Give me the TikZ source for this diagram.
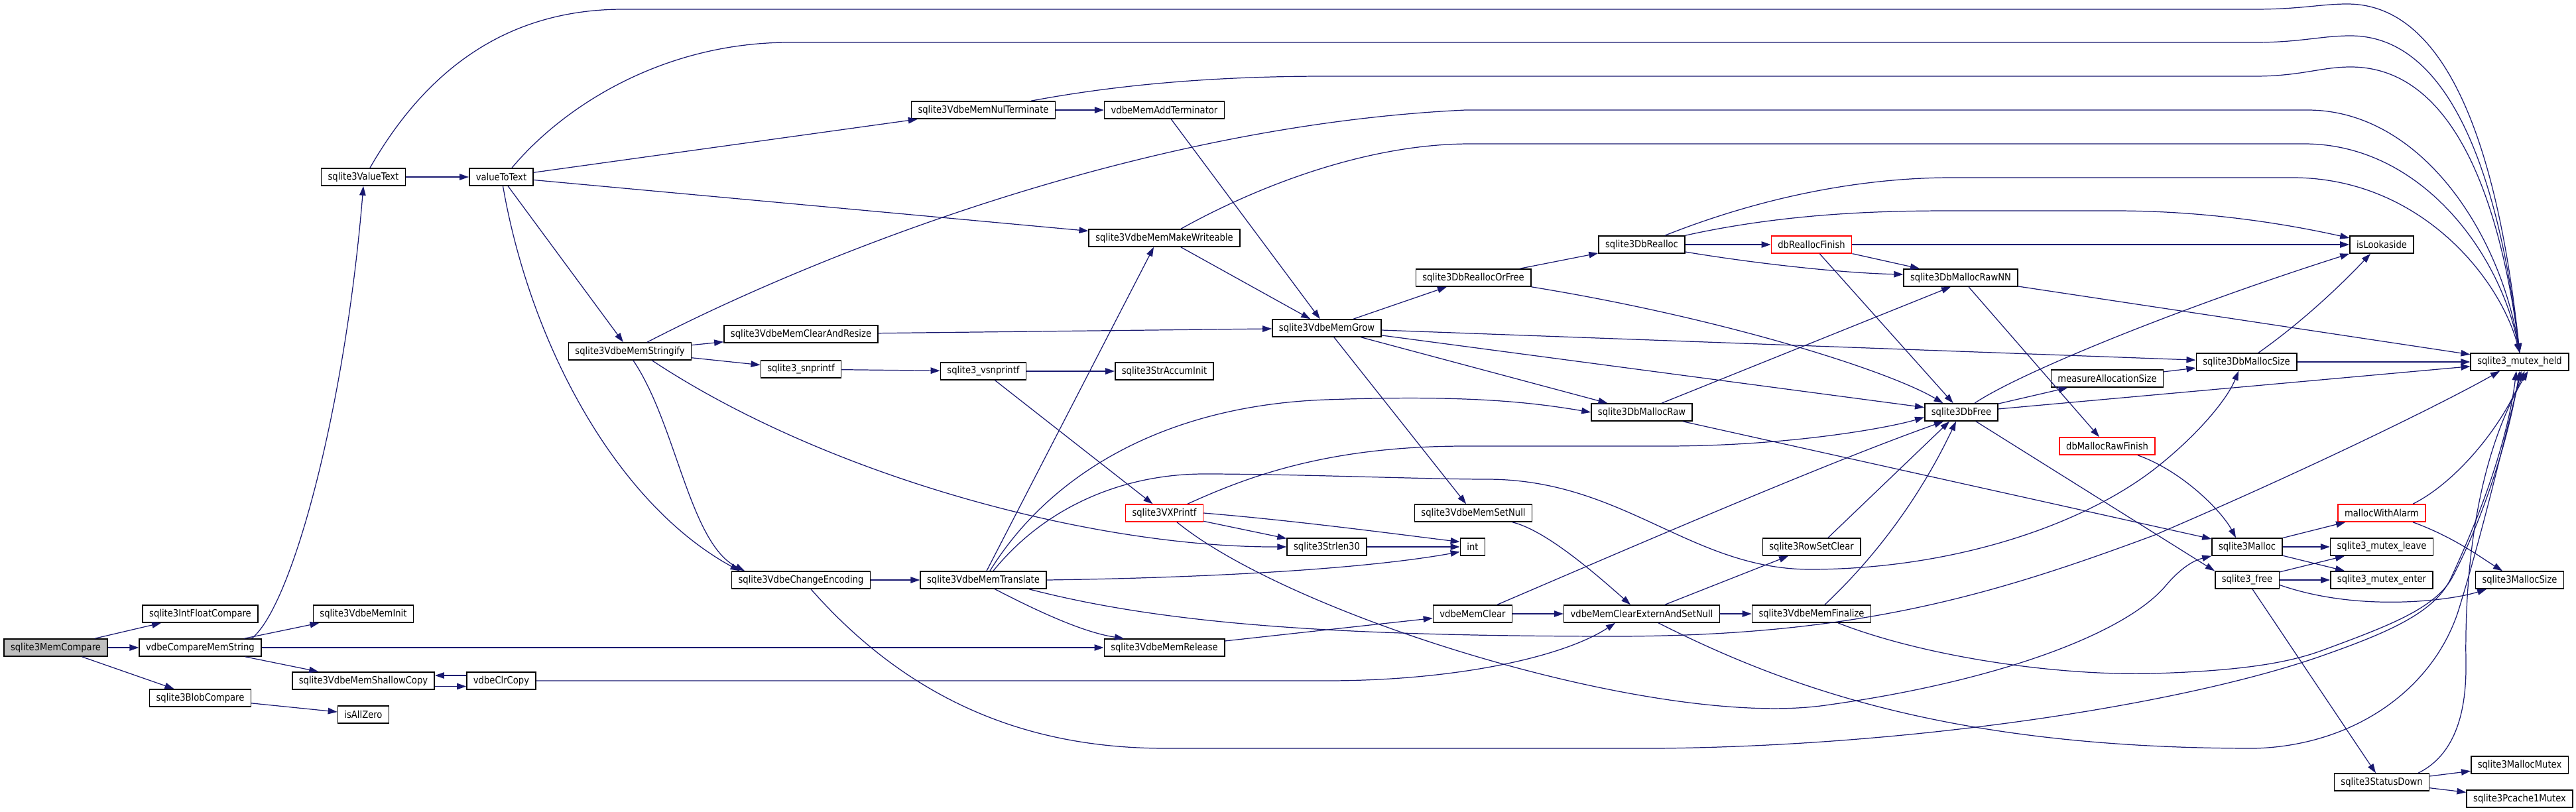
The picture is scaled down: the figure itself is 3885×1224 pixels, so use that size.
\documentclass[tikz,border=0pt]{standalone}
\usepackage{fontspec}
\newfontfamily\dvcond{DejaVu Sans}[FakeStretch=0.88]
\usepackage{tikz}
\usetikzlibrary{arrows.meta}
\definecolor{edgeBlue}{HTML}{191970}
\definecolor{rootGray}{HTML}{BFBFBF}
\definecolor{warnRed}{HTML}{FF0000}

\begin{document}
\begin{tikzpicture}[x=0.02cm, y=-0.02cm,
  fn/.style={draw=black, line width=0.9pt, fill=white, inner xsep=0.2cm, inner ysep=0pt,
    minimum height=0.52cm, font=\dvcond\fontsize{8.5}{10}\selectfont},
  fnred/.style={fn, draw=warnRed},
  fnroot/.style={fn, fill=rootGray},
  call/.style={draw=edgeBlue, line width=0.7pt, -{Triangle[length=0.28cm, width=0.19cm]}}]
\useasboundingbox (0,0) rectangle (3885,1224);
% --- functions, column by column ---
\node[fnroot] (memcmp) at (84,977) {sqlite3MemCompare};
\node[fn] (intfloat) at (302,926) {sqlite3IntFloatCompare};
\node[fn] (cmpstr) at (302,977) {vdbeCompareMemString};
\node[fn] (blobcmp) at (302,1053) {sqlite3BlobCompare};
\node[fn] (vtext) at (548,267) {sqlite3ValueText};
\node[fn] (meminit) at (548,926) {sqlite3VdbeMemInit};
\node[fn] (shallow) at (548,1027) {sqlite3VdbeMemShallowCopy};
\node[fn] (allzero) at (548,1078) {isAllZero};
\node[fn] (valtotext) at (756,267) {valueToText};
\node[fn] (clrcopy) at (756,1027) {vdbeClrCopy};
\node[fn] (strfy) at (950,530) {sqlite3VdbeMemStringify};
\node[fn] (clresize) at (1208,504) {sqlite3VdbeMemClearAndResize};
\node[fn] (snpf) at (1208,557) {sqlite3\_snprintf};
\node[fn] (chenc) at (1208,875) {sqlite3VdbeChangeEncoding};
\node[fn] (nulterm) at (1483,166) {sqlite3VdbeMemNulTerminate};
\node[fn] (vsnpf) at (1483,560) {sqlite3\_vsnprintf};
\node[fn] (transl) at (1483,875) {sqlite3VdbeMemTranslate};
\node[fn] (addterm) at (1756,166) {vdbeMemAddTerminator};
\node[fn] (mkwr) at (1756,359) {sqlite3VdbeMemMakeWriteable};
\node[fn] (accinit) at (1756,560) {sqlite3StrAccumInit};
\node[fnred] (vxpf) at (1756,774) {sqlite3VXPrintf};
\node[fn] (release) at (1756,977) {sqlite3VdbeMemRelease};
\node[fn] (grow) at (2001,495) {sqlite3VdbeMemGrow};
\node[fn] (strlen) at (2001,825) {sqlite3Strlen30};
\node[fn] (reorf) at (2222,419) {sqlite3DbReallocOrFree};
\node[fn] (setnull) at (2222,774) {sqlite3VdbeMemSetNull};
\node[fn] (int) at (2221,825) {int};
\node[fn] (memclr) at (2221,926) {vdbeMemClear};
\node[fn] (realloc) at (2476,369) {sqlite3DbRealloc};
\node[fn] (mraw) at (2476,622) {sqlite3DbMallocRaw};
\node[fn] (clrext) at (2476,926) {vdbeMemClearExternAndSetNull};
\node[fnred] (rfin) at (2732,369) {dbReallocFinish};
\node[fn] (rowset) at (2732,825) {sqlite3RowSetClear};
\node[fn] (final) at (2732,926) {sqlite3VdbeMemFinalize};
\node[fn] (rawnn) at (2957,419) {sqlite3DbMallocRawNN};
\node[fn] (dbfree) at (2958,622) {sqlite3DbFree};
\node[fn] (measure) at (3178,571) {measureAllocationSize};
\node[fnred] (rawfin) at (3178,673) {dbMallocRawFinish};
\node[fn] (msize) at (3388,546) {sqlite3DbMallocSize};
\node[fn] (smalloc) at (3389,825) {sqlite3Malloc};
\node[fn] (sfree) at (3389,875) {sqlite3\_free};
\node[fn] (lookaside) at (3592,369) {isLookaside};
\node[fnred] (alarm) at (3592,774) {mallocWithAlarm};
\node[fn] (mleave) at (3592,825) {sqlite3\_mutex\_leave};
\node[fn] (menter) at (3592,875) {sqlite3\_mutex\_enter};
\node[fn] (stdown) at (3592,1180) {sqlite3StatusDown};
\node[fn] (mheld) at (3800,546) {sqlite3\_mutex\_held};
\node[fn] (mallocsize) at (3800,875) {sqlite3MallocSize};
\node[fn] (mmutex) at (3800,1154) {sqlite3MallocMutex};
\node[fn] (pmutex) at (3800,1205) {sqlite3Pcache1Mutex};
% --- calls ---
\draw[call] (memcmp) -- (intfloat);
\draw[call] (memcmp) -- (cmpstr);
\draw[call] (memcmp) -- (blobcmp);
\draw[call] (blobcmp) -- (allzero);
\draw[call] ([xshift=-0.3cm]cmpstr.north east) .. controls (440,915) and (520,620) .. (vtext.south);
\draw[call] (cmpstr) -- (meminit);
\draw[call] (cmpstr) -- (shallow);
\draw[call] (cmpstr) -- (release);
\draw[call] ([yshift=-0.17cm]shallow.east) -- ([yshift=-0.17cm]clrcopy.west);
\draw[call] ([yshift=0.16cm]clrcopy.west) -- ([yshift=0.16cm]shallow.east);
\draw[call] (clrcopy.east) -- (2000,1027) .. controls (2200,1027) and (2360,990) .. ([xshift=-0.8cm]clrext.south);
\draw[call] (vtext) -- (valtotext);
\draw[call] ([xshift=0.2cm]vtext.north) .. controls (640,110) and (760,14) .. (940,14) -- (3400,14)
  .. controls (3470,14) and (3500,6) .. (3540,6) .. controls (3700,6) and (3770,250) .. (mheld.north);
\draw[call] ([xshift=0.32cm]valtotext.north) .. controls (850,160) and (1000,64) .. (1191,64) -- (3400,64)
  .. controls (3470,64) and (3500,54) .. (3545,54) .. controls (3700,54) and (3770,280) .. (mheld.north);
\draw[call] (valtotext) -- (nulterm);
\draw[call] (valtotext) -- (mkwr);
\draw[call] (valtotext) -- (strfy);
\draw[call] ([xshift=0.05cm]valtotext.south) .. controls (800,520) and (930,760) .. ([xshift=-1.85cm]chenc.north);
\draw[call] (nulterm) -- (addterm);
\draw[call] ([xshift=1.44cm]nulterm.north) .. controls (1700,125) and (1850,115) .. (2000,115) -- (3400,115)
  .. controls (3470,115) and (3500,101) .. (3545,101) .. controls (3700,101) and (3770,300) .. (mheld.north);
\draw[call] (addterm) -- (grow);
\draw[call] ([xshift=0.52cm]strfy.north) .. controls (1200,400) and (1700,190) .. (2210,166) -- (3480,166)
  .. controls (3650,166) and (3770,350) .. (mheld.north);
\draw[call] (strfy) -- (clresize);
\draw[call] (strfy) -- (snpf);
\draw[call] ([xshift=0.1cm]strfy.south) .. controls (1020,640) and (1040,820) .. ([xshift=-1.7cm]chenc.north);
\draw[call] ([xshift=-1.2cm]strfy.south east) .. controls (1250,720) and (1650,826) .. (strlen.west);
\draw[call] (clresize) -- (grow);
\draw[call] (snpf) -- (vsnpf);
\draw[call] (vsnpf) -- (accinit);
\draw[call] (vsnpf) -- (vxpf);
\draw[call] (chenc) -- (transl);
\draw[call] ([xshift=0.3cm]chenc.south) .. controls (1400,1090) and (1600,1129) .. (1760,1129) -- (2500,1129)
  .. controls (2900,1125) and (3300,1060) .. (3500,990) .. controls (3600,955) and (3670,925) .. (3695,875)
  .. controls (3730,800) and (3780,680) .. ([xshift=-0.1cm]mheld.south);
\draw[call] ([xshift=0.1cm]transl.north) -- ([xshift=-0.32cm]mkwr.south);
\draw[call] ([xshift=0.2cm]transl.north) .. controls (1580,720) and (1750,612) .. (2000,603)
  .. controls (2200,596) and (2300,605) .. (mraw.west);
\draw[call] ([xshift=0.3cm]transl.north) .. controls (1580,760) and (1700,715) .. (1816,715)
  .. controls (1950,715) and (2150,723) .. (2242,723) .. controls (2450,723) and (2550,860) .. (2733,859)
  .. controls (2950,858) and (3150,790) .. (3260,699) .. controls (3320,650) and (3360,600) .. ([xshift=-0.24cm]msize.south);
\draw[call] (transl.east) .. controls (1800,872) and (2050,860) .. ([yshift=-0.15cm]int.west);
\draw[call] ([xshift=0.35cm]transl.south) .. controls (1580,930) and (1640,955) .. ([xshift=-1.22cm]release.north);
\draw[call] ([xshift=1.38cm]transl.south) .. controls (1750,940) and (2000,960) .. (2446,960)
  .. controls (2800,958) and (3000,900) .. (3250,807) .. controls (3500,700) and (3700,600) .. ([xshift=-0.6cm]mheld.south);
\draw[call] (mkwr) -- (grow);
\draw[call] ([xshift=0.5cm]mkwr.north) .. controls (1880,290) and (2050,217) .. (2217,217) -- (3475,217)
  .. controls (3650,217) and (3770,380) .. (mheld.north);
\draw[call] ([xshift=0.7cm]vxpf.north) .. controls (1880,720) and (2000,673) .. (2210,673) -- (2510,673)
  .. controls (2700,673) and (2850,645) .. ([yshift=-0.15cm]dbfree.west);
\draw[call] (vxpf.east) .. controls (1950,785) and (2100,805) .. ([yshift=0.15cm]int.west);
\draw[call] (vxpf) -- (strlen);
\draw[call] ([xshift=0.38cm]vxpf.south) .. controls (1950,930) and (2500,1100) .. (2753,1064)
  .. controls (3000,1030) and (3200,960) .. (3265,885) .. controls (3290,855) and (3310,845) .. (smalloc.south west);
\draw[call] (release) -- (memclr);
\draw[call] (strlen) -- (int);
\draw[call] (grow) -- (reorf);
\draw[call] (grow) -- (msize);
\draw[call] (grow) -- (dbfree);
\draw[call] (grow) -- (mraw);
\draw[call] (grow) -- (setnull);
\draw[call] (reorf) -- (realloc);
\draw[call] (reorf.south east) .. controls (2600,480) and (2850,560) .. ([xshift=-0.55cm]dbfree.north);
\draw[call] ([xshift=1.18cm]setnull.south) .. controls (2330,800) and (2400,860) .. ([xshift=-0.34cm]clrext.north);
\draw[call] (memclr) -- (clrext);
\draw[call] ([xshift=0.74cm]memclr.north) .. controls (2450,830) and (2750,700) .. ([xshift=-0.54cm]dbfree.south);
\draw[call] (realloc) -- (rfin);
\draw[call] ([yshift=-0.22cm]realloc.east) .. controls (2650,398) and (2780,412) .. ([yshift=0.1cm]rawnn.west);
\draw[call] ([xshift=0.7cm]realloc.north) .. controls (2650,300) and (2800,268) .. (2944,268) -- (3457,268)
  .. controls (3650,268) and (3770,420) .. (mheld.north);
\draw[call] (realloc.north east) .. controls (2700,320) and (2850,318) .. (2944,318) -- (3189,318)
  .. controls (3350,318) and (3480,345) .. ([yshift=0.2cm]lookaside.west);
\draw[call] ([xshift=0.6cm]mraw.north) -- ([xshift=-0.3cm]rawnn.south);
\draw[call] (mraw) -- (smalloc);
\draw[call] (clrext) -- (rowset);
\draw[call] (clrext) -- (final);
\draw[call] ([xshift=0.5cm]clrext.south) .. controls (2700,1040) and (2950,1129) .. (3400,1129)
  .. controls (3550,1125) and (3670,1040) .. (3708,920) .. controls (3745,800) and (3780,650) .. ([xshift=0.05cm]mheld.south);
\draw[call] (rfin) -- (lookaside);
\draw[call] (rfin) -- (rawnn);
\draw[call] (rfin) -- (dbfree);
\draw[call] ([xshift=0.5cm]rowset.north) -- ([xshift=-0.36cm]dbfree.south);
\draw[call] ([xshift=0.4cm]final.north) .. controls (2850,820) and (2910,720) .. ([xshift=-0.16cm]dbfree.south);
\draw[call] ([xshift=0.8cm]final.south) .. controls (2900,990) and (3100,1020) .. (3248,1016)
  .. controls (3380,1012) and (3450,1000) .. (3500,982) .. controls (3600,945) and (3675,918) .. (3700,868)
  .. controls (3738,795) and (3780,680) .. (mheld.south);
\draw[call] (rawnn) -- (mheld);
\draw[call] (rawnn) -- (rawfin);
\draw[call] ([xshift=0.4cm]dbfree.north) .. controls (3050,560) and (3300,460) .. (lookaside.south west);
\draw[call] (dbfree) -- (measure);
\draw[call] (dbfree) -- (mheld);
\draw[call] (dbfree) -- (sfree.north west);
\draw[call] (measure) -- (msize);
\draw[call] (msize) -- (mheld);
\draw[call] ([xshift=0.36cm]msize.north) .. controls (3480,480) and (3540,420) .. ([xshift=-0.34cm]lookaside.south);
\draw[call] ([xshift=0.92cm]rawfin.south) .. controls (3290,710) and (3350,770) .. ([xshift=-0.34cm]smalloc.north);
\draw[call] (smalloc) -- (alarm);
\draw[call] (smalloc) -- (mleave);
\draw[call] (smalloc) -- (menter);
\draw[call] (sfree) -- (mleave);
\draw[call] (sfree) -- (menter);
\draw[call] ([yshift=-0.15cm]sfree.east) .. controls (3560,925) and (3700,905) .. ([xshift=-1cm]mallocsize.south);
\draw[call] ([xshift=0.16cm]sfree.south) -- ([xshift=-0.18cm]stdown.north);
\draw[call] ([xshift=0.94cm]alarm.north) .. controls (3700,730) and (3770,650) .. ([xshift=0.15cm]mheld.south);
\draw[call] ([xshift=0.94cm]alarm.south) .. controls (3700,810) and (3740,840) .. ([xshift=-0.52cm]mallocsize.north);
\draw[call] (stdown) -- (mmutex);
\draw[call] (stdown) -- (pmutex);
\draw[call] ([xshift=1.1cm]stdown.north) .. controls (3700,1140) and (3720,1080) .. (3719,1000)
  .. controls (3717,880) and (3730,700) .. ([xshift=0.25cm]mheld.south);
\end{tikzpicture}
\end{document}
